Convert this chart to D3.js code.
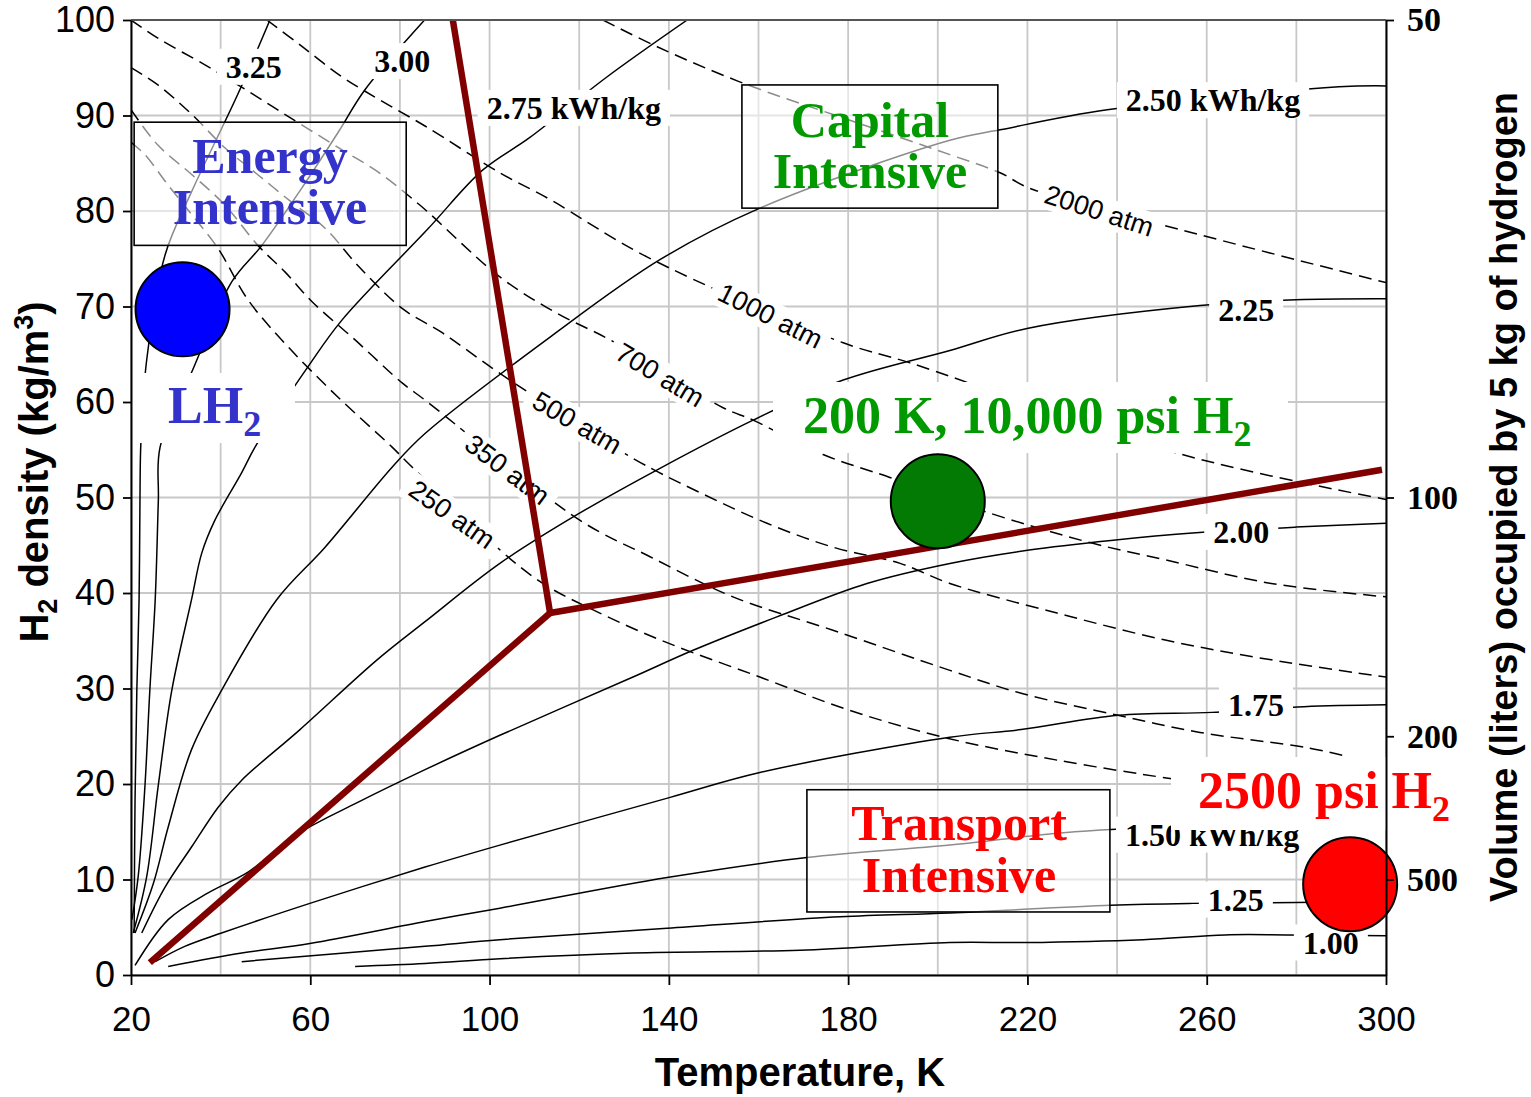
<!DOCTYPE html>
<html>
<head>
<meta charset="utf-8">
<script src="https://cdn.jsdelivr.net/npm/d3@7"></script>
<style>
  body { margin: 0; background: #fff; }
  svg { display: block; }
</style>
</head>
<body>
<svg id="chart" width="1531" height="1097"></svg>
<script>
// ---------------- data ----------------
const tempTicks = [20, 60, 100, 140, 180, 220, 260, 300];
const densityTicks = [0, 10, 20, 30, 40, 50, 60, 70, 80, 90, 100];
const volumeTicks = [50, 100, 200, 500];       // litres for 5 kg of H2
const hydrogenMassKg = 5;

// lines of constant ideal storage energy, [temperature K, density kg/m3]
const kwh100 = [[70.0,0.9],[85.6,1.2],[102.3,1.7],[132,2.3],[169.3,2.6],[202.7,3.4],[219.5,3.4],[245.8,3.7],[264.1,4.2],[277.7,4.2],[300,4.1]];
const kwh125 = [[44.7,1.4],[85.6,3.0],[102.3,3.7],[139.6,4.9],[178.2,6.1],[202.7,6.5],[238.6,7.3],[256.9,7.5],[280,7.6],[300,7.7]];
const kwh150 = [[28.3,0.9],[44.7,2.3],[59.9,3.3],[85.6,5.6],[102.3,7.0],[139.6,10.2],[170.8,12.3],[202.7,13.6],[230.6,15.0],[262,15.6]];
const kwh175 = [[25.4,1.4],[32.0,3.0],[40.2,4.4],[59.9,7.5],[85.6,11.3],[102.3,13.6],[140.3,18.6],[160.3,21.2],[202.7,24.9],[218.6,25.7],[240.2,27.2],[261.2,27.5],[281.7,28.1],[300,28.3]];
const kwh200 = [[20.9,1.0],[28.3,5.8],[37.2,8.6],[46.2,10.8],[57.3,14.8],[70.7,18.1],[85.6,21.5],[102.3,25.1],[132,31.2],[145.4,34.0],[164.1,37.5],[184.2,41.0],[202.7,43.1],[220.4,44.5],[238.6,45.5],[257.6,46.3],[279.9,46.9],[300,47.3]];
const kwh225 = [[22.4,4.4],[27.6,9.2],[33.5,13.4],[39.5,17.6],[44.7,20.4],[57.7,25.7],[74.9,33.0],[85.6,37.0],[102.3,43.1],[119.5,48.2],[137.4,52.9],[158.8,58.1],[178.9,62.3],[202.7,65.4],[219.9,67.7],[258.5,70.1],[279.9,70.7],[300,70.8]];
const kwh250 = [[20.9,4.4],[25.0,9.6],[28.3,15.5],[33.5,23.6],[40.2,29.8],[52.5,39.3],[63.3,44.8],[78.3,53.2],[85.6,56.7],[113.5,66.8],[138,74.9],[160.3,80.3],[202.7,87.4],[213.9,88.5],[237.8,90.6],[289.5,93.0],[300,93.1]];
const kwh275 = [[20.5,4.4],[23.5,10.3],[26.1,19.9],[29.1,29.8],[33.5,39.3],[35.8,44.2],[38.7,47.6],[44.7,52.6],[47.7,55.3],[59.5,63.7],[67.1,68.6],[86.0,78.0],[98.5,84.3],[109.0,87.7],[125.8,93.9],[144.1,100]];
const kwh300 = [[20.2,5.8],[21.6,10.3],[23.1,19.7],[24.2,29.8],[25.4,39.3],[26.1,49.7],[26.5,55.3],[33.8,63.4],[42.5,72.6],[49.2,76.4],[58.1,82.4],[66.3,88.3],[72.2,92.7],[85.5,100]];
const kwh325 = [[20.7,4.4],[20.9,18.3],[21.3,29.8],[21.8,39.3],[22.0,49.7],[22.2,55.7],[23.5,64.4],[27.6,75.4],[33.5,82.0],[43.9,92.3],[51.0,100]];

// isobars, [temperature K, density kg/m3]
const atm250 = [[20,87.2],[23.1,85.9],[28.3,82.7],[33.6,79.6],[39.4,76.1],[46.1,70.7],[55.0,65.8],[66.2,60.5],[78.2,55.3],[82.7,53.2],[109.7,41.7],[124.6,37.9],[139.6,34.8],[160.3,31.2],[180.4,27.7],[202.1,24.8],[226.6,22.5],[251.4,20.6],[262,19.9]];
const atm350 = [[20,90.6],[26.0,86.9],[33.6,83.8],[41.0,80.6],[48.3,76.4],[54.4,73.6],[60.4,70.5],[70.0,66.5],[80.5,62.0],[85.6,60.2],[120.2,47.6],[135.8,43.8],[154.3,39.6],[176.6,36.1],[202.7,31.9],[218.6,29.5],[240.2,27.2],[258.5,25.4],[282.4,23.8],[290.4,23.0]];
const atm500 = [[20,95.0],[26.0,93.2],[33.6,90.1],[41.0,86.6],[48.3,83.8],[55.9,80.9],[63.3,78.2],[70.6,74.3],[80.5,69.8],[89.6,67.2],[102.3,63.0],[132.0,54.1],[147.0,50.5],[161.9,47.3],[176.6,44.8],[191.6,43.1],[202.7,41.0],[226.6,37.9],[250.5,35.1],[274.4,33.0],[300,31.2]];
const atm700 = [[20,100],[26,98.1],[36.5,95.3],[43.2,93.4],[54.4,90.1],[67.1,86.4],[75.1,84.1],[84.5,80.6],[102.3,73.1],[115.0,69.3],[126.9,66.5],[152.1,59.4],[158.8,58.1],[174.4,54.5],[189.3,52.1],[209.4,48.7],[234.6,45.2],[250.5,43.5],[274.4,41.0],[300,39.6]];
const atm1000 = [[50.3,100],[57.7,97.4],[66.6,94.2],[75.6,91.6],[85.6,88.9],[102.3,84.0],[113.5,81.2],[135.1,75.2],[178.9,66.2],[193.8,64.1],[254.5,54.5],[300,49.8]];
const atm2000 = [[125.3,100],[137.4,97.2],[156.5,93.4],[180.4,89.5],[202.7,85.9],[213.9,84.0],[220.4,82.4],[254.5,78.0],[300,72.5]];

// boundaries between the three cost regimes
const regionJunction = [113.5, 37.9];
const boundaryTransport = [[24.2, 1.3], regionJunction];
const boundaryEnergy = [regionJunction, [91.8, 100]];
const boundaryCapital = [regionJunction, [299.1, 52.9]];

// storage options
const storagePoints = [
  { name: "LH2", T: 31.5, D: 69.7, fill: "#0000ff" },
  { name: "10,000 psi", T: 200, D: 49.6, fill: "#037a03" },
  { name: "2500 psi", T: 292, D: 9.5, fill: "#ff0000" }
];

// ---------------- layout ----------------
const svg = d3.select("#chart");
const W = 1531, H = 1097;
const plot = { left: 131, right: 1386, top: 20, bottom: 975 };
const x = d3.scaleLinear().domain([20, 300]).range([plot.left, plot.right]);
const y = d3.scaleLinear().domain([0, 100]).range([plot.bottom, plot.top]);

const SERIF = "'Liberation Serif','Times New Roman',Times,serif";
const SANS = "'Liberation Sans',Arial,Helvetica,sans-serif";

svg.append("rect").attr("width", W).attr("height", H).attr("fill", "#fff");

svg.append("defs").append("clipPath").attr("id", "plotClip")
  .append("rect")
  .attr("x", plot.left).attr("y", plot.top)
  .attr("width", plot.right - plot.left).attr("height", plot.bottom - plot.top);

// grid
const grid = svg.append("g").attr("stroke", "#c8c8c8").attr("stroke-width", 1.8);
d3.range(20, 301, 20).forEach(t => {
  grid.append("line").attr("x1", x(t)).attr("x2", x(t)).attr("y1", plot.top).attr("y2", plot.bottom);
});
d3.range(0, 101, 10).forEach(d => {
  grid.append("line").attr("y1", y(d)).attr("y2", y(d)).attr("x1", plot.left).attr("x2", plot.right);
});

// curves
const line = d3.line().x(d => x(d[0])).y(d => y(d[1])).curve(d3.curveCatmullRom.alpha(0.5));
const curves = svg.append("g").attr("clip-path", "url(#plotClip)").attr("fill", "none");

const energyCurves = [kwh100, kwh125, kwh150, kwh175, kwh200, kwh225, kwh250, kwh275, kwh300, kwh325];
const isobars = [atm250, atm350, atm500, atm700, atm1000, atm2000];

energyCurves.forEach(c => {
  curves.append("path").attr("d", line(c)).attr("stroke", "#000").attr("stroke-width", 1.5);
});
isobars.forEach(c => {
  curves.append("path").attr("d", line(c)).attr("stroke", "#000").attr("stroke-width", 1.5)
    .attr("stroke-dasharray", "13,7");
});

// region boxes (translucent so the curves show through in grey)
function regionBox(t0, d0, t1, d1, lines, color, size) {
  const g = svg.append("g");
  g.append("rect")
    .attr("x", x(t0)).attr("y", y(d0))
    .attr("width", x(t1) - x(t0)).attr("height", y(d1) - y(d0))
    .attr("fill", "#fff").attr("fill-opacity", 0.55)
    .attr("stroke", "#000").attr("stroke-width", 1.6);
  lines.forEach(l => {
    g.append("text").attr("x", l.x).attr("y", l.y)
      .attr("text-anchor", "middle")
      .attr("font-family", SERIF).attr("font-weight", "bold").attr("font-size", size)
      .attr("fill", color).text(l.text);
  });
}
regionBox(20.7, 89.3, 81.4, 76.4, [{text: "Energy", x: 270, y: 173}, {text: "Intensive", x: 270, y: 224}], "#3333cc", 50);
regionBox(156.3, 93.2, 213.4, 80.3, [{text: "Capital", x: 870, y: 137}, {text: "Intensive", x: 870, y: 188}], "#009900", 50);
regionBox(170.8, 19.4, 238.4, 6.6, [{text: "Transport", x: 959, y: 840}, {text: "Intensive", x: 959, y: 892}], "#ff0000", 50);

// labels with an opaque white backing
function backedText(t, d, str, opts) {
  const g = svg.append("g")
    .attr("transform", `translate(${x(t)},${y(d)}) rotate(${opts.angle || 0})`);
  const txt = g.append("text")
    .attr("text-anchor", "middle").attr("dominant-baseline", "central")
    .attr("font-family", opts.family).attr("font-weight", opts.weight || "bold")
    .attr("font-size", opts.size).attr("fill", "#000").text(str);
  const b = txt.node().getBBox();
  const px = opts.padX ?? 6, py = opts.padY ?? 1;
  g.insert("rect", "text")
    .attr("x", b.x - px).attr("y", b.y - py)
    .attr("width", b.width + 2 * px).attr("height", b.height + 2 * py)
    .attr("fill", "#fff");
}

// energy labels
const energyLabels = [
  { text: "3.25", T: 47.4, D: 95.1 },
  { text: "3.00", T: 80.5, D: 95.7 },
  { text: "2.75 kWh/kg", T: 118.8, D: 90.8 },
  { text: "2.50 kWh/kg", T: 261.4, D: 91.6 },
  { text: "2.25", T: 268.8, D: 69.6 },
  { text: "2.00", T: 267.7, D: 46.4 },
  { text: "1.75", T: 271.0, D: 28.3 },
  { text: "1.50 kWh/kg", T: 261.2, D: 14.7 },
  { text: "1.25", T: 266.5, D: 7.9 },
  { text: "1.00", T: 287.7, D: 3.4 }
];
energyLabels.forEach(l => backedText(l.T, l.D, l.text, { family: SERIF, size: 32, padX: 9, padY: 0 }));

// isobar labels
const isobarLabels = [
  { text: "250 atm", T: 91.6, D: 48.2, angle: 35 },
  { text: "350 atm", T: 103.9, D: 52.9, angle: 37 },
  { text: "500 atm", T: 119.5, D: 57.8, angle: 30 },
  { text: "700 atm", T: 138.0, D: 62.8, angle: 31 },
  { text: "1000 atm", T: 162.6, D: 69.0, angle: 26.5 },
  { text: "2000 atm", T: 236.0, D: 80.0, angle: 18 }
];
isobarLabels.forEach(l => backedText(l.T, l.D, l.text, { family: SANS, weight: "normal", size: 27, angle: l.angle, padX: 8, padY: 0 }));

// regime boundaries
const boundary = svg.append("g").attr("fill", "none").attr("stroke", "#800000")
  .attr("stroke-width", 6.5).attr("stroke-linejoin", "miter");
const straight = d3.line().x(d => x(d[0])).y(d => y(d[1]));
[boundaryTransport, boundaryEnergy, boundaryCapital].forEach(b => {
  boundary.append("path").attr("d", straight(b));
});

// storage option labels (opaque backing)
function optionLabel(rect, tx, ty, main, sub, color) {
  const g = svg.append("g");
  g.append("rect").attr("x", rect[0]).attr("y", rect[1])
    .attr("width", rect[2] - rect[0]).attr("height", rect[3] - rect[1]).attr("fill", "#fff");
  const t = g.append("text").attr("x", tx).attr("y", ty)
    .attr("font-family", SERIF).attr("font-weight", "bold").attr("font-size", 52).attr("fill", color);
  t.append("tspan").text(main);
  t.append("tspan").attr("font-size", 36).attr("dy", 13).text(sub);
}
optionLabel([132, 373, 295, 443], 168, 423, "LH", "2", "#3333cc");
optionLabel([773, 382, 1288, 453], 803, 433, "200 K, 10,000 psi H", "2", "#009900");
optionLabel([1171, 757, 1479, 830], 1198, 808, "2500 psi H", "2", "#ff0000");

// storage option markers
svg.append("g").selectAll("circle").data(storagePoints).join("circle")
  .attr("cx", d => x(d.T)).attr("cy", d => y(d.D)).attr("r", 47)
  .attr("fill", d => d.fill).attr("stroke", "#000").attr("stroke-width", 2);

// frame
svg.append("line").attr("x1", plot.left).attr("x2", plot.right).attr("y1", plot.top).attr("y2", plot.top)
  .attr("stroke", "#555").attr("stroke-width", 2);

// axes
const axisLeft = d3.axisLeft(y).tickValues(densityTicks).tickSize(8).tickPadding(8).tickSizeOuter(0);
const gL = svg.append("g").attr("transform", `translate(${plot.left},0)`).call(axisLeft);
gL.selectAll("text").attr("font-family", SANS).attr("font-size", 36).attr("fill", "#000");

const axisBottom = d3.axisBottom(x).tickValues(tempTicks).tickSize(10).tickPadding(21).tickSizeOuter(0);
const gB = svg.append("g").attr("transform", `translate(0,${plot.bottom})`).call(axisBottom);
gB.selectAll("text").attr("font-family", SANS).attr("font-size", 35).attr("fill", "#000");

const toDensity = v => hydrogenMassKg * 1000 / v;
const axisRight = d3.axisRight(y).tickValues(volumeTicks.map(toDensity))
  .tickFormat(d => Math.round(hydrogenMassKg * 1000 / d)).tickSize(8).tickPadding(13).tickSizeOuter(0);
const gR = svg.append("g").attr("transform", `translate(${plot.right},0)`).call(axisRight);
gR.selectAll("text").attr("font-family", SERIF).attr("font-weight", "bold").attr("font-size", 34).attr("fill", "#000");

[gL, gB, gR].forEach(g => {
  g.select(".domain").attr("stroke", "#000").attr("stroke-width", 2);
  g.selectAll(".tick line").attr("stroke", "#000").attr("stroke-width", 1.8);
});

// axis titles
svg.append("text").attr("x", 800).attr("y", 1086).attr("text-anchor", "middle")
  .attr("font-family", SANS).attr("font-weight", "bold").attr("font-size", 40)
  .text("Temperature, K");

const yt = svg.append("text").attr("transform", "translate(48,472) rotate(-90)")
  .attr("text-anchor", "middle")
  .attr("font-family", SANS).attr("font-weight", "bold").attr("font-size", 40);
yt.append("tspan").text("H");
yt.append("tspan").attr("font-size", 27).attr("dy", 9).text("2");
yt.append("tspan").attr("dy", -9).text(" density (kg/m");
yt.append("tspan").attr("font-size", 27).attr("dy", -15).text("3");
yt.append("tspan").attr("dy", 15).text(")");

svg.append("text").attr("transform", "translate(1517,497) rotate(-90)")
  .attr("text-anchor", "middle")
  .attr("font-family", SANS).attr("font-weight", "bold").attr("font-size", 38)
  .text("Volume (liters) occupied by 5 kg of hydrogen");
</script>
</body>
</html>
